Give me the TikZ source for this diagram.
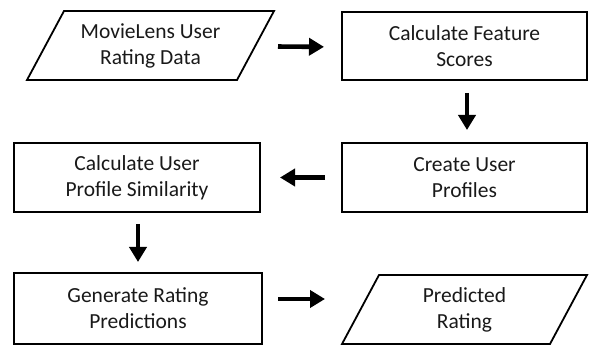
\documentclass[tikz,border=0pt]{standalone}
\usepackage{fontspec}
\setmainfont{Carlito}
\usetikzlibrary{arrows.meta}
\begin{document}
\begin{tikzpicture}[x=1pt,y=-1pt,
  every node/.style={font=\fontsize{21.5}{26}\selectfont, text=black!90, align=center, inner sep=0pt, outer sep=0pt},
  procbox/.style={draw=black, line width=1.8pt, minimum width=#1, minimum height=69pt},
  iobox/.style={minimum width=#1, minimum height=69pt},
  para/.style={draw=black, line width=1.8pt, line join=miter},
  flow/.style={line width=4.6pt, -{Triangle[length=15pt,width=17pt]}}
]
\useasboundingbox (0,0) rectangle (589,347);
\node[iobox=247pt] (p1) at (150.5,45.5) {MovieLens User\\Rating Data};
\draw[para] (p1.south west) -- ([xshift=-37pt]p1.south east) -- (p1.north east) -- ([xshift=37pt]p1.north west) -- cycle;
\node[procbox=245pt, minimum height=68pt] (b2) at (464.5,46) {Calculate Feature\\Scores};
\node[procbox=245pt] (b3) at (464.5,177.5) {Create User\\Profiles};
\node[procbox=246pt] (b4) at (137,177.5) {Calculate User\\Profile Similarity};
\node[procbox=248pt, minimum height=71pt] (b5) at (138,308.5) {Generate Rating\\Predictions};
\node[iobox=245pt] (p2) at (464.5,309.5) {Predicted\\Rating};
\draw[para] (p2.south west) -- ([xshift=-37pt]p2.south east) -- (p2.north east) -- ([xshift=37pt]p2.north west) -- cycle;

\draw[flow, shorten <=4pt, shorten >=18pt] ([yshift=-1pt]p1.east) -- ([yshift=-1pt]b2.west);
\draw[flow, shorten <=13pt, shorten >=13pt] ([xshift=2.5pt]b2.south) -- ([xshift=2.5pt]b3.north);
\draw[flow, shorten <=17pt, shorten >=20pt] (b3.west) -- (b4.east);
\draw[flow, shorten <=12pt, shorten >=11pt] ([xshift=1pt]b4.south) -- ([xshift=0pt]b5.north);
\draw[flow, shorten <=16pt, shorten >=17pt] ([yshift=9.5pt]b5.east) -- ([yshift=10.5pt]p2.west);
\end{tikzpicture}
\end{document}
